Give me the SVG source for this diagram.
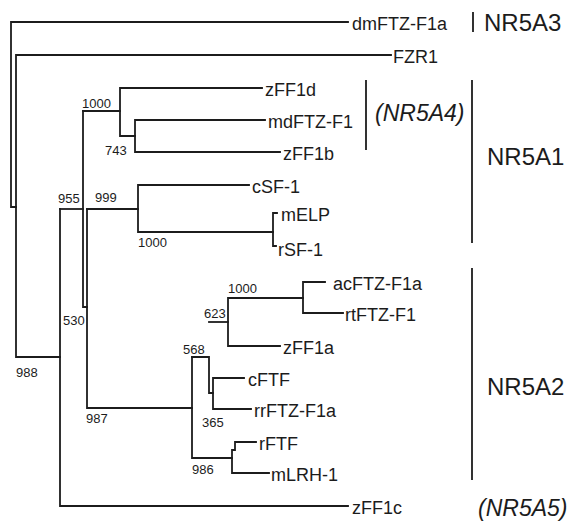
<svg xmlns="http://www.w3.org/2000/svg" width="567" height="525" viewBox="0 0 567 525">
<style>
.br{fill:none;stroke:#1c1c1c;stroke-width:1.8;stroke-linecap:square}
.bar{fill:none;stroke:#1c1c1c;stroke-width:1.8}
.tx{font-family:"Liberation Sans",Arial,sans-serif;font-size:18px;fill:#1c1c1c}
.bs{font-family:"Liberation Sans",Arial,sans-serif;font-size:13px;fill:#1c1c1c}
.grp{font-family:"Liberation Sans",Arial,sans-serif;font-size:24px;fill:#1c1c1c}
.grpi{font-family:"Liberation Sans",Arial,sans-serif;font-size:23px;font-style:italic;fill:#1c1c1c}
</style>
<rect width="567" height="525" fill="#ffffff"/>
<g id="connectors">
<path class="br" d="M348,22 H11 V207 H16"/>
<path class="br" d="M391,55 H16 V357 H60"/>
<path class="br" d="M262,88 H120 V136 H135"/>
<path class="br" d="M265,120 H135 V152 H280"/>
<path class="br" d="M83,111 H120"/>
<path class="br" d="M83,111 V307 H87"/>
<path class="br" d="M60,209 H83"/>
<path class="br" d="M87,209 V408 H192"/>
<path class="br" d="M87,209 H138"/>
<path class="br" d="M249,185 H138 V232 H273"/>
<path class="br" d="M277,213 H273 V246 H276"/>
<path class="br" d="M60,209 V506 H348"/>
<path class="br" d="M192,357 V458 H232"/>
<path class="br" d="M192,357 H209 V393 H213"/>
<path class="br" d="M209,322 H228"/>
<path class="br" d="M280,346 H228 V298 H303"/>
<path class="br" d="M325,282 H303 V313 H343"/>
<path class="br" d="M244,378 H213 V409 H251"/>
<path class="br" d="M256,442 H235 V450 H232 V473 H269"/>
</g>
<g id="n-dmFTZ-F1a"><text class="tx" x="352" y="30">dmFTZ-F1a</text></g>
<g id="n-FZR1"><text class="tx" x="393" y="63">FZR1</text></g>
<g id="n-zFF1d"><text class="tx" x="265" y="96">zFF1d</text></g>
<g id="n-mdFTZ-F1"><text class="tx" x="268" y="128">mdFTZ-F1</text></g>
<g id="n-zFF1b"><text class="tx" x="283" y="160">zFF1b</text></g>
<g id="n-cSF-1"><text class="tx" x="252" y="193">cSF-1</text></g>
<g id="n-mELP"><text class="tx" x="281" y="221">mELP</text></g>
<g id="n-rSF-1"><text class="tx" x="278" y="256">rSF-1</text></g>
<g id="n-acFTZ-F1a"><text class="tx" x="333" y="290">acFTZ-F1a</text></g>
<g id="n-rtFTZ-F1"><text class="tx" x="345" y="321">rtFTZ-F1</text></g>
<g id="n-zFF1a"><text class="tx" x="283" y="354">zFF1a</text></g>
<g id="n-cFTF"><text class="tx" x="248" y="386">cFTF</text></g>
<g id="n-rrFTZ-F1a"><text class="tx" x="254" y="417">rrFTZ-F1a</text></g>
<g id="n-rFTF"><text class="tx" x="259" y="450">rFTF</text></g>
<g id="n-mLRH-1"><text class="tx" x="271" y="481">mLRH-1</text></g>
<g id="n-zFF1c"><text class="tx" x="352" y="514">zFF1c</text></g>
<g id="bootstrap">
<text class="bs" x="82" y="108">1000</text>
<text class="bs" x="105" y="155">743</text>
<text class="bs" x="58" y="203">955</text>
<text class="bs" x="95" y="202">999</text>
<text class="bs" x="138" y="247">1000</text>
<text class="bs" x="228" y="293">1000</text>
<text class="bs" x="204" y="318">623</text>
<text class="bs" x="63" y="325">530</text>
<text class="bs" x="183" y="354">568</text>
<text class="bs" x="16" y="377">988</text>
<text class="bs" x="86" y="423">987</text>
<text class="bs" x="202" y="427">365</text>
<text class="bs" x="192" y="474">986</text>
</g>
<g id="g-NR5A3"><path class="bar" d="M473,12 V32"/><text class="grp" x="484" y="31">NR5A3</text></g>
<g id="g-NR5A4"><path class="bar" d="M366,80 V150"/><text class="grpi" x="375" y="121">(NR5A4)</text></g>
<g id="g-NR5A1"><path class="bar" d="M472,80 V243"/><text class="grp" x="487" y="165">NR5A1</text></g>
<g id="g-NR5A2"><path class="bar" d="M472,268 V480"/><text class="grp" x="487" y="395">NR5A2</text></g>
<g id="g-NR5A5"><text class="grpi" x="478" y="516">(NR5A5)</text></g>
</svg>
